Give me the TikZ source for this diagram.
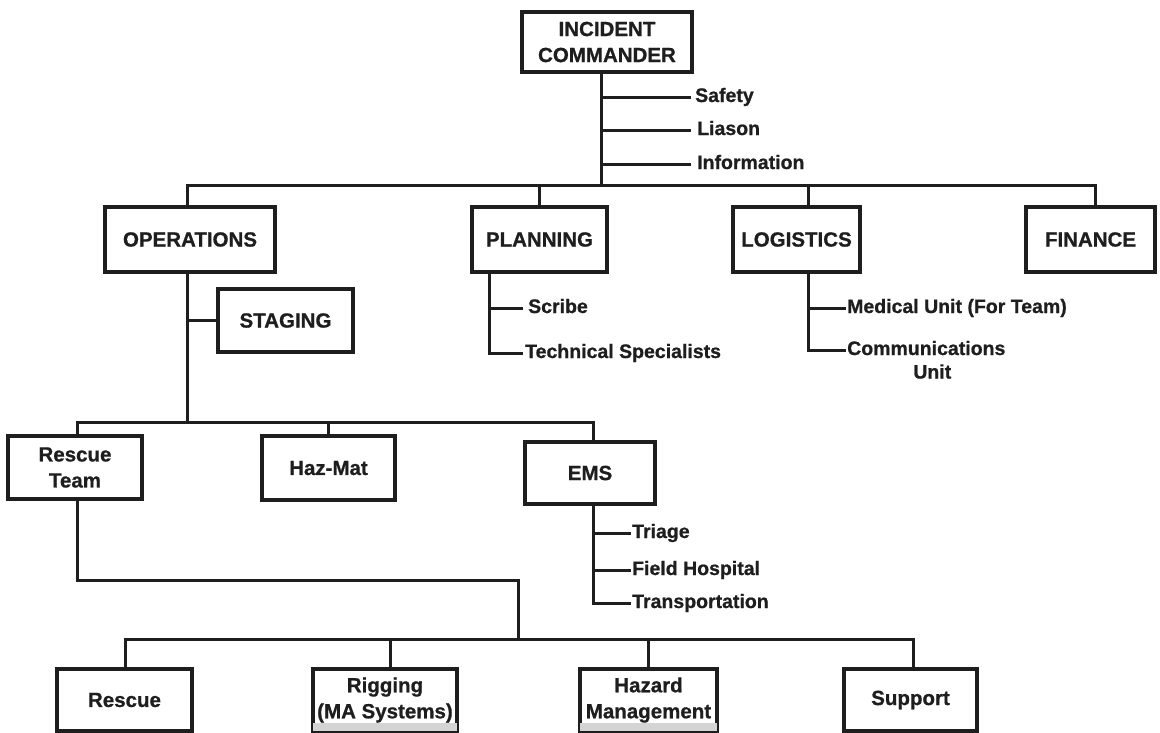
\documentclass[tikz,border=0pt]{standalone}
\usepackage{fontspec}
\setmainfont{Liberation Sans}[BoldFeatures={FakeBold=0.8}]
\definecolor{ink}{HTML}{1E1E1E}
\definecolor{bandgray}{HTML}{D4D4D4}
\newcommand\lblfont{\bfseries\fontsize{20.5}{26}\selectfont}
\newcommand\itmfont{\bfseries\fontsize{19.5}{23}\selectfont}
\begin{document}
\begin{tikzpicture}[x=1pt,y=-1pt,
  conn/.style={line width=3pt, draw=ink, line cap=rect},
  box/.style={draw=ink, line width=3.4pt, fill=white, inner sep=0pt, font=\lblfont, align=center, text=ink},
  item/.style={inner sep=0pt, font=\itmfont, text=ink, anchor=west, text height=14pt, text depth=4pt},
  band/.style={fill=bandgray}]
\fill[white] (0,0) rectangle (1160,732);
\useasboundingbox (0,0) rectangle (1160,732);

% boxes
\node[box, minimum width=170pt, minimum height=60pt] (ic) at (607,42) {INCIDENT\\COMMANDER};
\node[box, minimum width=170pt, minimum height=65pt] (ops) at (190,239.5) {OPERATIONS};
\node[box, minimum width=135pt, minimum height=65pt] (plan) at (539.5,239.5) {PLANNING};
\node[box, minimum width=127pt, minimum height=65pt] (log) at (796.5,239.5) {LOGISTICS};
\node[box, minimum width=129pt, minimum height=65pt] (fin) at (1090.5,239.5) {FINANCE};
\node[box, minimum width=135pt, minimum height=63pt] (stag) at (285.5,320.5) {STAGING};
\node[box, minimum width=134pt, minimum height=63pt] (rt) at (75,467.5) {Rescue\\Team};
\node[box, minimum width=133pt, minimum height=64pt] (haz) at (328.5,468) {Haz-Mat};
\node[box, minimum width=130pt, minimum height=62pt] (ems) at (590,473) {EMS};
\node[box, minimum width=135pt, minimum height=62pt] (resc) at (124.5,700) {Rescue};
\node[box, minimum width=144pt, minimum height=62pt] (rig) at (385,700) {Rigging\\(MA Systems)};
\node[box, minimum width=137pt, minimum height=62pt] (hazm) at (648.5,700) {Hazard\\Management};
\node[box, minimum width=133pt, minimum height=62pt] (sup) at (910.5,700) {Support};
\fill[band] ([xshift=1.7pt,yshift=1.7pt]rig.south west) rectangle ([xshift=-1.7pt,yshift=10pt]rig.south east);
\fill[band] ([xshift=1.7pt,yshift=1.7pt]hazm.south west) rectangle ([xshift=-1.7pt,yshift=10pt]hazm.south east);

% incident commander staff
\coordinate (jT) at (601,185);
\node[item] (safety) at (695,97) {Safety};
\node[item] (liason) at (697,130) {Liason};
\node[item] (info) at (697,164) {Information};
\draw[conn] (ic.south -| jT) -- (jT);
\draw[conn] (safety.west -| jT) -- ([xshift=-6pt]safety.west);
\draw[conn] (liason.west -| jT) -- ([xshift=-8pt]liason.west);
\draw[conn] (info.west -| jT) -- ([xshift=-8pt]info.west);

% top bar
\coordinate (tOps) at (187,185);
\coordinate (tPlan) at (539,185);
\coordinate (tLog) at (808,185);
\coordinate (tFin) at (1095,185);
\draw[conn] (ops.north -| tOps) -- (tOps) -- (tFin) -- (fin.north -| tFin);
\draw[conn] (tPlan) -- (plan.north -| tPlan);
\draw[conn] (tLog) -- (log.north -| tLog);

% planning
\coordinate (pX) at (489,0);
\node[item] (scribe) at (528,308) {Scribe};
\node[item] (tech) at (525,353) {Technical Specialists};
\draw[conn] (plan.south -| pX) |- ([xshift=-4pt]tech.west);
\draw[conn] (scribe.west -| pX) -- ([xshift=-7pt]scribe.west);

% logistics
\coordinate (lX) at (808,0);
\node[item] (med) at (847,308) {Medical Unit (For Team)};
\node[item] (comm) at (847,350) {Communications};
\node[inner sep=0pt, font=\itmfont, text=ink, anchor=north] (unit) at ([xshift=6pt,yshift=-5pt]comm.south) {Unit};
\draw[conn] (log.south -| lX) |- ([xshift=-3pt]comm.west);
\draw[conn] (med.west -| lX) -- ([xshift=-3pt]med.west);

% operations
\coordinate (oX) at (187,0);
\coordinate (j2) at (187,422);
\draw[conn] (ops.south -| oX) -- (j2);
\draw[conn] (stag.west -| oX) -- (stag.west);
\coordinate (s1) at (77,422);
\coordinate (s2) at (328,422);
\coordinate (s3) at (593,422);
\draw[conn] (rt.north -| s1) -- (s1) -- (s3) -- (ems.north -| s3);
\draw[conn] (s2) -- (haz.north -| s2);

% rescue team to bottom row
\coordinate (r2) at (518,580);
\coordinate (b0) at (518,639);
\draw[conn] (rt.south -| s1) -- (s1 |- r2) -- (r2) -- (b0);
\coordinate (bL) at (125,639);
\coordinate (bRig) at (390,639);
\coordinate (bHaz) at (648,639);
\coordinate (bR) at (913,639);
\draw[conn] (resc.north -| bL) -- (bL) -- (bR) -- (sup.north -| bR);
\draw[conn] (bRig) -- (rig.north -| bRig);
\draw[conn] (bHaz) -- (hazm.north -| bHaz);

% EMS
\coordinate (eX) at (593,0);
\node[item] (triage) at (632,533) {Triage};
\node[item] (field) at (632,570) {Field Hospital};
\node[item] (transp) at (632,603) {Transportation};
\draw[conn] (ems.south -| eX) |- ([xshift=-3pt]transp.west);
\draw[conn] (triage.west -| eX) -- ([xshift=-3pt]triage.west);
\draw[conn] (field.west -| eX) -- ([xshift=-3pt]field.west);
\end{tikzpicture}
\end{document}
